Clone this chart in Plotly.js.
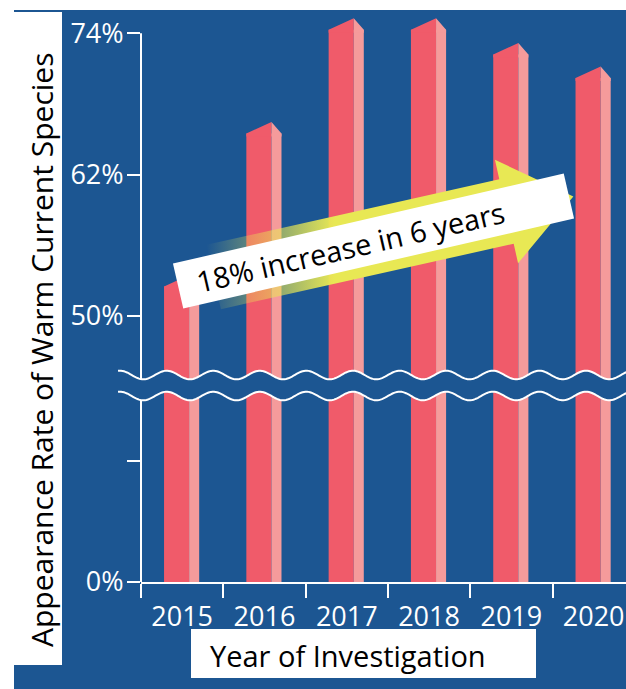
<!DOCTYPE html>
<html><head><meta charset="utf-8">
<script src="https://cdn.plot.ly/plotly-3.0.1.min.js"></script>
<style>html,body{margin:0;padding:0;background:#fff}#chart{width:626px;height:689px}</style>
</head><body><div id="chart"></div>
<script>
// ---- data ----
const years = ['2015', '2016', '2017', '2018', '2019', '2020'];
const rates = [52.5, 65.5, 74.3, 74.3, 72.2, 70.2];
const Y_MIN = 27.42;   // bottom of the broken axis (labelled 0%)
const Y_MAX = 75.98;
const yTickVals = [Y_MIN, 37.7, 50, 62, 74];
const yTickText = ['0%', '', '50%', '62%', '74%'];
const xTitle = 'Year of Investigation';
const yTitle = 'Appearance Rate of Warm Current Species';
const noteText = '18% increase in 6 years';

// ---- geometry helpers ----
const W = 626, H = 689, L = 141, T = 10, BOT = 582;
const PW = W - L, PH = BOT - T;
const CAT = 82.3;
const X_MIN = -0.5, X_MAX = -0.5 + PW / CAT;
const px2x = px => X_MIN + (px - L) / CAT;
const py2y = py => Y_MAX - (py - T) / PH * (Y_MAX - Y_MIN);
const px2p = px => (px - L) / PW;
const py2p = py => (BOT - py) / PH;
const pxPerUnit = PH / (Y_MAX - Y_MIN);

const BLUE = '#1C5692', FRONT = '#F05B6A', SIDE = '#F59B9B', YEL = '232,232,84';
const FONT = 'Open Sans, Noto Sans, sans-serif';

const xIdx = years.map((_, i) => i);
const fOff = -0.22, fW = 0.305, sOff = 0.085, sW = 0.122;
const roofH = 11.5 / pxPerUnit;
const ov = 0.25; // overlap into bar to hide seams

// roofs
const rfx = [], rfy = [], rsx = [], rsy = [];
xIdx.forEach((xi, i) => {
  const v = rates[i];
  rfx.push(xi + fOff, xi + fOff, xi + sOff, xi + sOff, null);
  rfy.push(v - ov, v, v + roofH, v - ov, null);
  rsx.push(xi + sOff, xi + sOff + sW, xi + sOff + sW, xi + sOff, null);
  rsy.push(v + roofH, v, v - ov, v - ov, null);
});

// arrow (decoration) in pixel frame
const th = 12.6 * Math.PI / 180;
const ux = Math.cos(th), uy = -Math.sin(th), nx = Math.sin(th), ny = Math.cos(th);
const M = [506.5, 211.5];
const arrowPts = [[-300, -33], [0, -33], [0, -53], [68.5, 0], [0, 53], [0, 33], [-300, 33]];
const ax = [], ay = [];
arrowPts.forEach(([t, s]) => {
  const px = M[0] + t * ux + s * nx, py = M[1] + t * uy + s * ny;
  ax.push(px2x(px)); ay.push(py2y(py));
});

// note box
const bth = 12.96 * Math.PI / 180;
const bc = [373.5, 241], bw = 401, bh = 46;
const bux = Math.cos(bth), buy = -Math.sin(bth), bnx = Math.sin(bth), bny = Math.cos(bth);
const corners = [[-1, -1], [1, -1], [1, 1], [-1, 1]].map(([a, b]) =>
  [bc[0] + a * bw / 2 * bux + b * bh / 2 * bnx, bc[1] + a * bw / 2 * buy + b * bh / 2 * bny]);
const boxPath = 'M' + corners.map(c => px2p(c[0]) + ',' + py2p(c[1])).join(' L') + ' Z';
const textC = [bc[0] - 24 * bux, bc[1] - 24 * buy];

// waves
function wave(yc) {
  const pts = [];
  for (let x = 118; x <= 632; x += 1.5) {
    pts.push([x, yc - 4.3 * Math.cos(2 * Math.PI * (x - 120) / 46.6)]);
  }
  return pts;
}
const w1 = wave(375), w2 = wave(396);
const toPath = pts => pts.map((p, i) => (i ? 'L' : 'M') + px2p(p[0]).toFixed(5) + ',' + py2p(p[1]).toFixed(5)).join(' ');
const bandPath = toPath(w1) + ' ' + w2.slice().reverse().map(p => 'L' + px2p(p[0]).toFixed(5) + ',' + py2p(p[1]).toFixed(5)).join(' ') + ' Z';

const traces = [
  {type: 'bar', x: xIdx, y: rates, offset: fOff, width: fW, marker: {color: FRONT, line: {width: 0}}, hoverinfo: 'skip', showlegend: false},
  {type: 'bar', x: xIdx, y: rates, offset: sOff, width: sW, marker: {color: SIDE, line: {width: 0}}, hoverinfo: 'skip', showlegend: false},
  {type: 'scatter', x: rfx, y: rfy, mode: 'lines', fill: 'toself', fillcolor: FRONT, line: {width: 0}, hoverinfo: 'skip', showlegend: false},
  {type: 'scatter', x: rsx, y: rsy, mode: 'lines', fill: 'toself', fillcolor: SIDE, line: {width: 0}, hoverinfo: 'skip', showlegend: false},
  {type: 'scatter', x: ax, y: ay, mode: 'lines', fill: 'toself', line: {width: 0},
   fillgradient: {type: 'horizontal', colorscale: [[0, 'rgba(' + YEL + ',0)'], [0.35, 'rgba(' + YEL + ',1)'], [1, 'rgba(' + YEL + ',1)']]},
   hoverinfo: 'skip', showlegend: false}
];

const shapes = [
  {type: 'rect', xref: 'paper', yref: 'paper', x0: px2p(14), x1: px2p(640), y0: py2p(10), y1: py2p(700), fillcolor: BLUE, line: {width: 0}, layer: 'below'},
  {type: 'rect', xref: 'paper', yref: 'paper', x0: px2p(-5), x1: px2p(62), y0: py2p(12), y1: py2p(665), fillcolor: '#fff', line: {width: 0}, layer: 'below'},
  {type: 'rect', xref: 'paper', yref: 'paper', x0: px2p(191), x1: px2p(536), y0: py2p(629), y1: py2p(678), fillcolor: '#fff', line: {width: 0}, layer: 'below'},
  {type: 'line', xref: 'paper', yref: 'y', x0: 0, x1: 0, y0: Y_MIN, y1: 74, line: {color: '#fff', width: 2}, layer: 'above'},
  {type: 'path', xref: 'paper', yref: 'paper', path: bandPath, fillcolor: BLUE, line: {width: 0}, layer: 'above'},
  {type: 'path', xref: 'paper', yref: 'paper', path: toPath(w1), fillcolor: 'rgba(0,0,0,0)', line: {color: '#fff', width: 2}, layer: 'above'},
  {type: 'path', xref: 'paper', yref: 'paper', path: toPath(w2), fillcolor: 'rgba(0,0,0,0)', line: {color: '#fff', width: 2}, layer: 'above'},
  {type: 'path', xref: 'paper', yref: 'paper', path: boxPath, fillcolor: '#fff', line: {width: 0}, layer: 'above'}
];

const annotations = [
  {xref: 'paper', yref: 'paper', x: px2p(textC[0]), y: py2p(textC[1]), text: noteText, textangle: -12.96, showarrow: false,
   xanchor: 'center', yanchor: 'middle', font: {family: FONT, size: 29, color: '#000'}},
  {xref: 'paper', yref: 'paper', x: px2p(348), y: py2p(655), text: xTitle, showarrow: false,
   xanchor: 'center', yanchor: 'middle', font: {family: FONT, size: 29, color: '#000'}},
  {xref: 'paper', yref: 'paper', x: px2p(41), y: py2p(350), text: yTitle, textangle: -90, showarrow: false,
   xanchor: 'center', yanchor: 'middle', font: {family: FONT, size: 30, color: '#000'}}
];

const layout = {
  width: W, height: H,
  margin: {l: L, r: 0, t: T, b: H - BOT, pad: 0},
  paper_bgcolor: '#fff', plot_bgcolor: 'rgba(0,0,0,0)',
  barmode: 'overlay',
  showlegend: false,
  xaxis: {
    range: [X_MIN, X_MAX], tickmode: 'array', tickvals: xIdx, ticktext: years,
    ticks: '', showgrid: false, zeroline: false, ticklabelstandoff: 10,
    showline: true, linecolor: '#fff', linewidth: 2,
    tickfont: {family: FONT, size: 27, color: '#fff'},
    minor: {tickmode: 'array', tickvals: xIdx.map(i => i - 0.5).concat([X_MIN + 6]), ticks: 'outside', ticklen: 14, tickwidth: 2, tickcolor: '#fff', showgrid: false}
  },
  yaxis: {
    range: [Y_MIN, Y_MAX], tickmode: 'array', tickvals: yTickVals, ticktext: yTickText,
    ticks: 'outside', ticklen: 13, tickwidth: 2, tickcolor: '#fff', ticklabelstandoff: -2,
    showline: false, showgrid: false, zeroline: false,
    tickfont: {family: FONT, size: 27, color: '#fff'}
  },
  shapes: shapes,
  annotations: annotations
};

Plotly.newPlot('chart', traces, layout, {displayModeBar: false, staticPlot: true});
</script>
</body></html>
